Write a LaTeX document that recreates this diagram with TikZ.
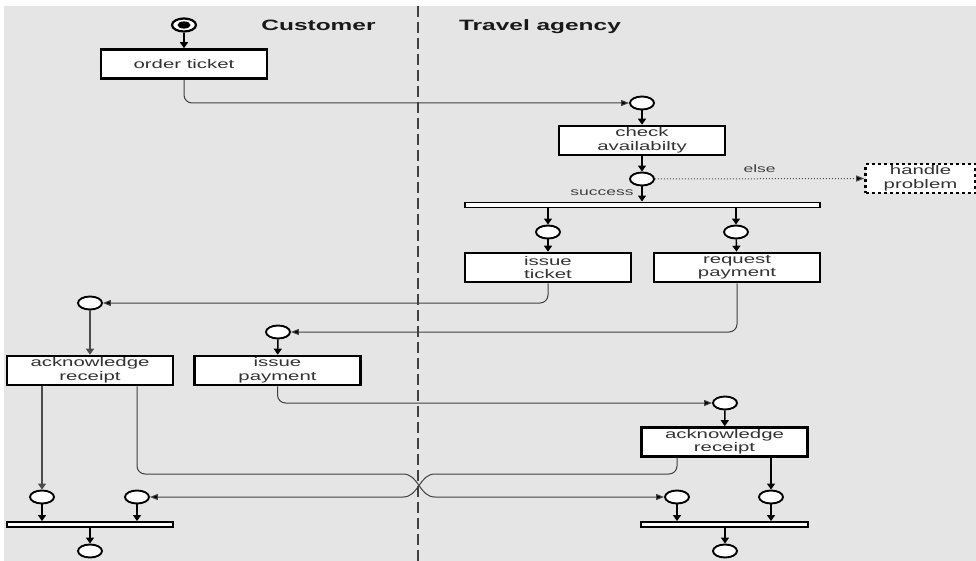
\documentclass[tikz,border=0pt]{standalone}
\usepackage{fontspec}
\setmainfont{Liberation Sans}[FakeStretch=1.63]
\usetikzlibrary{arrows.meta,shapes.geometric}
\begin{document}
\begin{tikzpicture}[x=1pt,y=-1pt,
  box/.style={draw=black,line width=2.6pt,fill=white,minimum width=166pt,minimum height=29pt,inner sep=0pt,align=center,font=\fontsize{12.5}{13.5}\selectfont,text=black!80},
  place/.style={ellipse,draw=black,line width=1.9pt,fill=white,minimum width=24pt,minimum height=13pt,inner sep=0pt},
  barnode/.style={draw=black,line width=1.9pt,fill=white,inner sep=0pt,minimum height=5pt},
  vflow/.style={draw=black,line width=1.4pt,-{Triangle[length=6pt,width=8pt]}},
  hflow/.style={draw=black!75,line width=1pt,rounded corners=8pt,-{Triangle[length=8pt,width=6pt,fill=black]}},
  lbl/.style={font=\fontsize{10.7}{12}\selectfont,text=black!75},
  head/.style={font=\bfseries\fontsize{15}{17}\selectfont,text=black!90}
]
\useasboundingbox (0,0) rectangle (976,561);
\fill[white] (0,0) rectangle (976,561);
\fill[black!10] (4,6) rectangle (976,561);
\draw[black!75,line width=1.8pt,dash pattern=on 11pt off 5pt] (418,6) -- (418,561);

\node[head,anchor=base] (hc) at (318.5,31) {Customer};
\node[head,anchor=base] (ht) at (540,31) {Travel agency};

% start
\node[place,line width=2.2pt] (start) at (184,25) {};
\fill[black] (start.center) ellipse [x radius=6.5pt, y radius=3.6pt];

\node[box] (ot) at (184,64) {order ticket};
\node[place] (c1) at (642,103) {};
\node[box] (ca) at (642,140.5) {check\\availabilty};
\node[place] (c2) at (642,179) {};
\node[box,dashed,minimum width=110pt] (hp) at (920.5,178.5) {handle\\problem};
\node[barnode,minimum width=355pt] (fork1) at (642.5,205) {};
\node[place] (c3) at (548,232) {};
\node[place] (c4) at (736,232) {};
\node[box] (it) at (548,267.5) {issue\\ticket};
\node[box] (rp) at (737,267.5) {request\\payment};
\node[place] (c5) at (90,303) {};
\node[place] (c6) at (278,332) {};
\node[box] (ack1) at (90,370.5) {acknowledge\\receipt};
\node[box] (ip) at (277.5,370.5) {issue\\payment};
\node[place] (c7) at (725,403) {};
\node[box] (ack2) at (724.5,442) {acknowledge\\receipt};
\node[place] (c8) at (42,497) {};
\node[place] (c9) at (137,497) {};
\node[place] (c10) at (677,497) {};
\node[place] (c11) at (771,497) {};
\node[barnode,minimum width=166pt] (bar2) at (90,524.5) {};
\node[barnode,minimum width=167pt] (bar3) at (724.5,524.5) {};
\node[place] (c12) at (90,551) {};
\node[place] (c13) at (725,551) {};

% connectors
\draw[vflow] (start) -- (ot);
\draw[hflow] (ot.south) |- (c1.west);
\draw[vflow] (c1) -- (ca);
\draw[vflow] (ca) -- (c2);
\draw[black!70,line width=1pt,dotted,-{Triangle[length=8pt,width=6pt,fill=black]}] (c2.east) -- node[lbl,above=2pt] (lelse) {else} (hp.west);
\draw[vflow] (c2) -- (c2 |- fork1.north);
\node[lbl,anchor=east] (lsucc) at (637,193) {success};
\draw[vflow] (fork1.south -| c3) -- (c3);
\draw[vflow] (fork1.south -| c4) -- (c4);
\draw[vflow] (c3) -- (it);
\draw[vflow] (c4) -- (rp);
\draw[hflow] (it.south) |- (c5.east);
\draw[hflow] (rp.south) |- (c6.east);
\draw[vflow,draw=black!70,line width=1.6pt] (c5) -- (ack1);
\draw[vflow] (c6) -- (ip);
\draw[hflow] (ip.south) |- (c7.west);
\draw[vflow] (c7) -- (ack2);
\draw[vflow,draw=black!70,line width=1.6pt] (ack1.south -| c8) -- (c8);
\draw[hflow] (ack1.south -| c9) |- (395,474) .. controls (419,474) and (419,497) .. (443,497) -- (c10.west);
\draw[hflow] (ack2.south -| c10) |- (443,474) .. controls (419,474) and (419,497) .. (395,497) -- (c9.east);
\draw[vflow] (ack2.south -| c11) -- (c11);
\draw[vflow] (c8) -- (c8 |- bar2.north);
\draw[vflow] (c9) -- (c9 |- bar2.north);
\draw[vflow] (c10) -- (c10 |- bar3.north);
\draw[vflow] (c11) -- (c11 |- bar3.north);
\draw[vflow] (bar2.south -| c12) -- (c12);
\draw[vflow] (bar3.south -| c13) -- (c13);
\end{tikzpicture}
\end{document}
